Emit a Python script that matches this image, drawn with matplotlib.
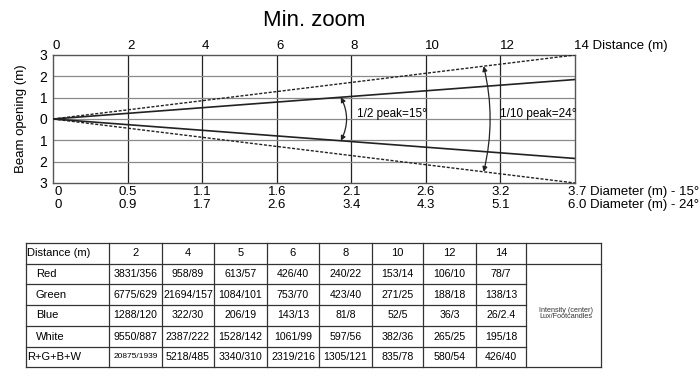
import matplotlib
matplotlib.use("Agg")
import matplotlib.pyplot as plt
import numpy as np

plt.rcParams['font.family'] = ['Liberation Sans', 'DejaVu Sans']

# ---- data ----
distances = [0, 2, 4, 6, 8, 10, 12, 14]
beam_end_distance = [0, 14]
half_width_15 = [0, 1.85]   # half of 3.7 m diameter at 14 m
half_width_24 = [0, 3.0]    # half of 6.0 m diameter at 14 m
diam_15 = ["0", "0.5", "1.1", "1.6", "2.1", "2.6", "3.2", "3.7"]
diam_24 = ["0", "0.9", "1.7", "2.6", "3.4", "4.3", "5.1", "6.0"]
y_ticks = [3, 2, 1, 0, -1, -2, -3]
y_labels = ["3", "2", "1", "0", "1", "2", "3"]

table_header = ["Distance (m)", "2", "4", "5", "6", "8", "10", "12", "14"]
row_labels = ["Red", "Green", "Blue", "White", "R+G+B+W"]
red = ["3831/356", "958/89", "613/57", "426/40", "240/22", "153/14", "106/10", "78/7"]
green = ["6775/629", "21694/157", "1084/101", "753/70", "423/40", "271/25", "188/18", "138/13"]
blue = ["1288/120", "322/30", "206/19", "143/13", "81/8", "52/5", "36/3", "26/2.4"]
white = ["9550/887", "2387/222", "1528/142", "1061/99", "597/56", "382/36", "265/25", "195/18"]
rgbw = ["20875/1939", "5218/485", "3340/310", "2319/216", "1305/121", "835/78", "580/54", "426/40"]
table_note = "Intensity (center)\nLux/Footcandles"

W, H = 700, 389
fig = plt.figure(figsize=(W / 100, H / 100), dpi=100)

# ---- beam chart ----
L, R, T, B = 53, 575, 55, 183
ax = fig.add_axes([L / W, 1 - B / H, (R - L) / W, (B - T) / H])
ax.set_xlim(0, 14)
ax.set_ylim(-3, 3)
for d in distances[1:-1]:
    ax.axvline(d, color='#222222', lw=0.9, zorder=1)
for yv in [2, 1, 0, -1, -2]:
    ax.axhline(yv, color='#8a8a8a', lw=0.9, zorder=1)
for s in ax.spines.values():
    s.set_color('#555555')
    s.set_linewidth(1.0)

bx = np.array(beam_end_distance)
ax.plot(bx, np.array(half_width_15), color='#222222', lw=1.2, zorder=3)
ax.plot(bx, -np.array(half_width_15), color='#222222', lw=1.2, zorder=3)
ax.plot(bx, np.array(half_width_24), color='#222222', lw=1.0, ls=(0, (2.2, 1.2)), zorder=3)
ax.plot(bx, -np.array(half_width_24), color='#222222', lw=1.0, ls=(0, (2.2, 1.2)), zorder=3)

ax.set_xticks([])
ax.set_yticks(y_ticks)
ax.set_yticklabels(y_labels, fontsize=10)
ax.tick_params(axis='y', length=0, pad=4)
ax.set_ylabel("Beam opening (m)", fontsize=9.5, labelpad=9)

fs_ax = 9.5
# top distance labels
for i, d in enumerate(distances):
    lab = str(d) if d != 14 else "14 Distance (m)"
    ax.text(d - 0.02, 3.12, lab, ha='left', va='bottom', fontsize=fs_ax, clip_on=False)
# bottom diameter labels
for i, d in enumerate(distances):
    if i == 0:
        ax.text(d + 0.03, -3.15, diam_15[i], ha='left', va='top', fontsize=fs_ax)
        ax.text(d + 0.03, -3.75, diam_24[i], ha='left', va='top', fontsize=fs_ax)
    elif i == len(distances) - 1:
        ax.text(d - 0.2, -3.15, diam_15[i] + " Diameter (m) - 15°", ha='left', va='top', fontsize=fs_ax)
        ax.text(d - 0.2, -3.75, diam_24[i] + " Diameter (m) - 24°", ha='left', va='top', fontsize=fs_ax)
    else:
        ax.text(d, -3.15, diam_15[i], ha='center', va='top', fontsize=fs_ax)
        ax.text(d, -3.75, diam_24[i], ha='center', va='top', fontsize=fs_ax)

# angle arrows
xa = 7.72
ya = xa * half_width_15[1] / 14
ax.annotate("", xy=(xa, -ya), xytext=(xa, ya),
            arrowprops=dict(arrowstyle='<|-|>', color='#222222', lw=0.9,
                            connectionstyle='arc3,rad=-0.25', mutation_scale=7,
                            shrinkA=0, shrinkB=0), zorder=4)
ax.text(8.15, 0.22, "1/2 peak=15°", fontsize=8.5, ha='left', va='center')
xb = 11.55
yb = xb * half_width_24[1] / 14
ax.annotate("", xy=(xb, -yb), xytext=(xb, yb),
            arrowprops=dict(arrowstyle='<|-|>', color='#222222', lw=0.9,
                            connectionstyle='arc3,rad=-0.12', mutation_scale=7,
                            shrinkA=0, shrinkB=0), zorder=4)
ax.text(12.0, 0.22, "1/10 peak=24°", fontsize=8.5, ha='left', va='center')

fig.text(314 / W, 1 - 20 / H, "Min. zoom", ha='center', va='center', fontsize=16)

# ---- table ----
tax = fig.add_axes([0, 0, 1, 1])
tax.set_xlim(0, W)
tax.set_ylim(H, 0)
tax.axis('off')
col_x = [26, 109, 162, 214, 267, 319, 372, 423, 476, 526, 601]
row_y = [243, 264, 284, 305, 326, 347, 367]
lc = '#333333'
for x in col_x:
    tax.plot([x, x], [row_y[0], row_y[-1]], color=lc, lw=0.9)
for j, y in enumerate(row_y):
    x_end = col_x[-1] if j in (0, 1, len(row_y) - 1) else col_x[-2]
    tax.plot([col_x[0], x_end], [y, y], color=lc, lw=0.9)

tfs = 8
tax.text(col_x[0] + 1, (row_y[0] + row_y[1]) / 2, table_header[0], ha='left', va='center', fontsize=tfs)
for k, h in enumerate(table_header[1:]):
    cx = (col_x[k + 1] + col_x[k + 2]) / 2
    tax.text(cx, (row_y[0] + row_y[1]) / 2, h, ha='center', va='center', fontsize=tfs)

rows = [red, green, blue, white, rgbw]
for r, (lab, vals) in enumerate(zip(row_labels, rows)):
    cy = (row_y[r + 1] + row_y[r + 2]) / 2
    indent = 10 if lab != "R+G+B+W" else 1
    tax.text(col_x[0] + indent, cy, lab, ha='left', va='center', fontsize=tfs)
    for k, v in enumerate(vals):
        cx = (col_x[k + 1] + col_x[k + 2]) / 2
        fs = 6.0 if len(v) >= 10 else 7.6
        tax.text(cx, cy, v, ha='center', va='center', fontsize=fs)

tax.text(col_x[-2] + 13, (row_y[1] + row_y[-1]) / 2 - 2, table_note, ha='left', va='center',
         fontsize=5.2, linespacing=1.0, color='#333333')

fig.savefig("out.png", dpi=100)
